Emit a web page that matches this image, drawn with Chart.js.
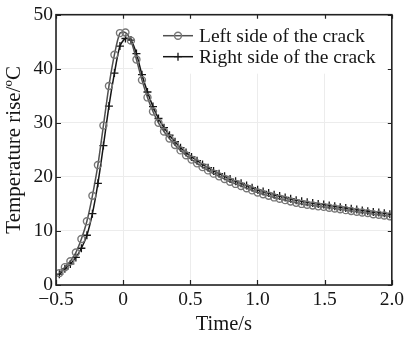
<!DOCTYPE html>
<html>
<head>
<meta charset="utf-8">
<script src="https://cdn.jsdelivr.net/npm/chart.js@4"></script>
<style>
  html, body { margin: 0; padding: 0; background: #fff; }
  #wrap { width: 407px; height: 337px; }
</style>
</head>
<body>
<div id="wrap"><canvas id="chart"></canvas></div>
<script>
// sample times (s)
const timeS = [-0.475, -0.434, -0.393, -0.352, -0.311, -0.270, -0.229, -0.188, -0.147, -0.106, -0.065, -0.024,
  0.017, 0.058, 0.099, 0.140, 0.181, 0.222, 0.263, 0.304, 0.345, 0.386, 0.427, 0.468,
  0.509, 0.550, 0.591, 0.632, 0.673, 0.714, 0.755, 0.796, 0.837, 0.878, 0.919, 0.960,
  1.001, 1.042, 1.083, 1.124, 1.165, 1.206, 1.247, 1.288, 1.329, 1.370, 1.411, 1.452,
  1.493, 1.534, 1.575, 1.616, 1.657, 1.698, 1.739, 1.780, 1.821, 1.862, 1.903, 1.944, 1.985]

// temperature rise, left side of the crack (circles)
const leftSide = [2.2, 3.3, 4.4, 6.0, 8.5, 11.8, 16.5, 22.2, 29.5, 36.8, 42.6, 46.6,
  46.7, 45.2, 41.7, 37.9, 34.7, 32.1, 30.0, 28.4, 27.1, 25.9, 24.9, 24.0,
  23.2, 22.5, 21.8, 21.2, 20.6, 20.1, 19.6, 19.1, 18.7, 18.3, 17.9, 17.5,
  17.1, 16.8, 16.5, 16.2, 15.95, 15.7, 15.45, 15.2, 15.0, 14.85, 14.7, 14.55,
  14.45, 14.3, 14.15, 14.0, 13.85, 13.7, 13.55, 13.4, 13.3, 13.1, 13.0, 12.85, 12.7]

// temperature rise, right side of the crack (crosses)
const rightSide = [2.0, 3.0, 3.9, 5.1, 6.8, 9.2, 13.2, 18.8, 25.8, 33.1, 39.2, 44.2,
  45.6, 45.3, 42.8, 38.9, 35.7, 33.0, 30.8, 29.1, 27.7, 26.5, 25.4, 24.5,
  23.7, 23.0, 22.3, 21.7, 21.1, 20.6, 20.1, 19.6, 19.2, 18.8, 18.4, 18.0,
  17.6, 17.3, 17.0, 16.7, 16.45, 16.2, 15.95, 15.7, 15.5, 15.3, 15.15, 15.0,
  14.9, 14.7, 14.55, 14.4, 14.25, 14.1, 13.95, 13.8, 13.65, 13.5, 13.4, 13.25, 13.1]

const seriesNames = ['Left side of the crack', 'Right side of the crack']
const xTicks = [-0.5, 0, 0.5, 1.0, 1.5, 2.0]
const yTicks = [0, 10, 20, 30, 40, 50]

const serif = '"Liberation Serif", "DejaVu Serif", serif'
const ink = '#161616'

const fmtX = (v) => (v === 0 ? '0' : v.toFixed(1).replace('-', '\u2212'))

// box, inward ticks and in-plot legend
const framePlugin = {
  id: 'frame',
  beforeDatasetsDraw(chart) {
    const { ctx, chartArea: a } = chart
    // white legend backdrop hides the grid
    ctx.save()
    ctx.fillStyle = '#fff'
    ctx.fillRect(a.left + 97, a.top + 1, a.right - a.left - 98, 58)
    ctx.restore()
  },
  afterDraw(chart) {
    const { ctx, chartArea: a, scales } = chart
    ctx.save()
    ctx.strokeStyle = '#222'
    ctx.lineWidth = 1.2
    xTicks.forEach((v) => {
      const px = Math.round(scales.x.getPixelForValue(v)) + 0.5
      ctx.beginPath()
      ctx.moveTo(px, a.bottom); ctx.lineTo(px, a.bottom - 5)
      ctx.moveTo(px, a.top); ctx.lineTo(px, a.top + 4)
      ctx.stroke()
    })
    yTicks.forEach((v) => {
      const py = Math.round(scales.y.getPixelForValue(v)) + 0.5
      ctx.beginPath()
      ctx.moveTo(a.left, py); ctx.lineTo(a.left + 5, py)
      ctx.moveTo(a.right, py); ctx.lineTo(a.right - 4, py)
      ctx.stroke()
    })
    ctx.lineWidth = 1.6
    ctx.strokeRect(a.left, a.top, a.right - a.left, a.bottom - a.top)

    // legend
    const lx = a.left + 107
    const rows = [a.top + 21, a.top + 42]
    chart.data.datasets.forEach((ds, i) => {
      const y = rows[i]
      ctx.strokeStyle = ds.borderColor
      ctx.lineWidth = ds.borderWidth
      ctx.beginPath()
      ctx.moveTo(lx, y); ctx.lineTo(lx + 30, y)
      ctx.stroke()
      ctx.strokeStyle = ds.pointBorderColor
      ctx.lineWidth = ds.pointBorderWidth
      ctx.beginPath()
      if (ds.pointStyle === 'circle') {
        ctx.arc(lx + 15, y, ds.pointRadius, 0, Math.PI * 2)
      } else {
        ctx.moveTo(lx + 15 - ds.pointRadius, y); ctx.lineTo(lx + 15 + ds.pointRadius, y)
        ctx.moveTo(lx + 15, y - ds.pointRadius); ctx.lineTo(lx + 15, y + ds.pointRadius)
      }
      ctx.stroke()
      ctx.fillStyle = ink
      ctx.font = '19.5px ' + serif
      ctx.textBaseline = 'middle'
      ctx.fillText(ds.label, lx + 36, y + 1)
    })
    ctx.restore()
  },
}

const ctx = document.getElementById('chart').getContext('2d')
new Chart(ctx, {
  type: 'line',
  data: {
    datasets: [
      {
        label: seriesNames[0],
        data: timeS.map((t, i) => ({ x: t, y: leftSide[i] })),
        borderColor: '#505050',
        borderWidth: 1.5,
        pointStyle: 'circle',
        pointRadius: 3.5,
        pointBorderColor: '#777',
        pointBorderWidth: 1.4,
        pointBackgroundColor: 'rgba(0,0,0,0)',
        tension: 0.25,
      },
      {
        label: seriesNames[1],
        data: timeS.map((t, i) => ({ x: t, y: rightSide[i] })),
        borderColor: '#151515',
        borderWidth: 1.5,
        pointStyle: 'cross',
        pointRadius: 4,
        pointBorderColor: '#151515',
        pointBorderWidth: 1.3,
        tension: 0.25,
      },
    ],
  },
  options: {
    responsive: true,
    maintainAspectRatio: false,
    animation: false,
    layout: { padding: { top: 13, right: 13, left: 0, bottom: 0 } },
    plugins: {
      legend: { display: false },
      tooltip: { enabled: false },
    },
    scales: {
      x: {
        type: 'linear',
        min: -0.5,
        max: 2.0,
        afterBuildTicks: (scale) => { scale.ticks = xTicks.map((v) => ({ value: v })) },
        afterFit: (scale) => { scale.height = 52 },
        grid: { color: '#ececec', drawTicks: false },
        border: { display: false },
        ticks: {
          padding: 3,
          color: ink,
          font: { family: serif, size: 19.5 },
          callback: (v) => fmtX(v),
        },
        title: {
          display: true,
          text: 'Time/s',
          color: ink,
          font: { family: serif, size: 20.5 },
          padding: { top: 0, bottom: 0 },
        },
      },
      y: {
        min: 0,
        max: 50,
        afterBuildTicks: (scale) => { scale.ticks = yTicks.map((v) => ({ value: v })) },
        afterFit: (scale) => { scale.width = 56 },
        grid: { color: '#ececec', drawTicks: false },
        border: { display: false },
        ticks: {
          padding: 3,
          color: ink,
          font: { family: serif, size: 19.5 },
        },
        title: {
          display: true,
          text: 'Temperature rise/\u00baC',
          color: ink,
          font: { family: serif, size: 21 },
          padding: { top: 2, bottom: 0 },
        },
      },
    },
  },
  plugins: [framePlugin],
})
</script>
</body>
</html>
